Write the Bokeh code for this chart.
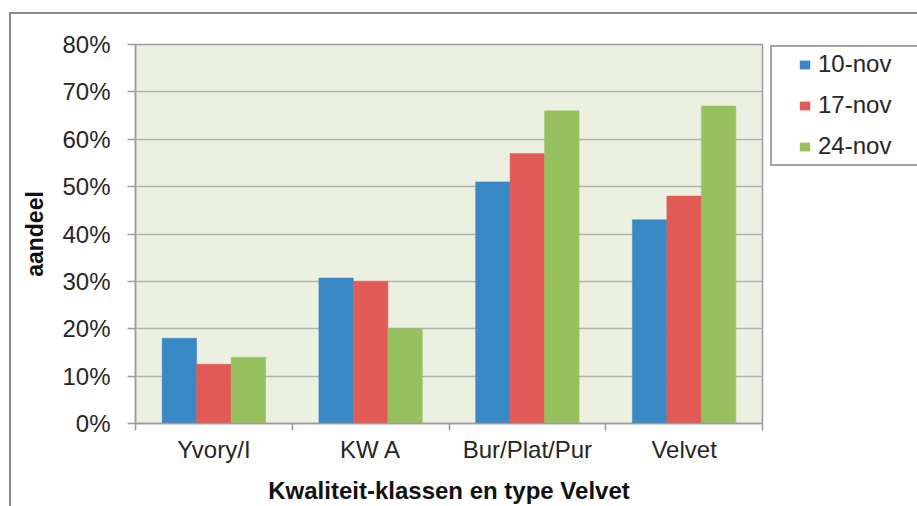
from bokeh.plotting import figure
from bokeh.layouts import row
from bokeh.models import (Range1d, FixedTicker, NumeralTickFormatter, Legend, LegendItem,
                          ColumnDataSource)
from bokeh.embed import file_html
from bokeh.resources import INLINE
import numpy as np

# ---- data ----
categories = ["Yvory/I", "KW A", "Bur/Plat/Pur", "Velvet"]
series_names = ["10-nov", "17-nov", "24-nov"]
share_10nov = [0.18, 0.307, 0.51, 0.43]
share_17nov = [0.125, 0.30, 0.57, 0.48]
share_24nov = [0.14, 0.20, 0.66, 0.67]
y_ticks = [0.0, 0.1, 0.2, 0.3, 0.4, 0.5, 0.6, 0.7, 0.8]
x_title = "Kwaliteit-klassen en type Velvet"
y_title = "aandeel"

colors = ["#3a89c6", "#e15a55", "#97c15e"]
FONT = "Liberation Sans"
TXT = "#262626"
GRAY = "#9c9c9c"

p = figure(width=770, height=506, output_backend="svg", toolbar_location=None,
           x_range=Range1d(0, len(categories)), y_range=Range1d(0, 0.8),
           min_border_left=135, min_border_right=8, min_border_top=44,
           min_border_bottom=83)
p.background_fill_color = "#ebf0e1"
p.border_fill_alpha = 0
p.outline_line_color = GRAY
p.outline_line_width = 1.5

centers = np.arange(len(categories)) + 0.5
bar_w = 0.22
offsets = [-bar_w, 0.0, bar_w]
sources = []
for name, vals, off, col in zip(series_names, [share_10nov, share_17nov, share_24nov], offsets, colors):
    src = ColumnDataSource(dict(x=centers + off, top=vals))
    sources.append(src)
    p.vbar(x="x", top="top", width=bar_w, bottom=0, source=src,
           fill_color=col, line_color=col, line_width=0.5)

# y axis
yax = p.yaxis[0]
yax.ticker = FixedTicker(ticks=y_ticks)
yax.formatter = NumeralTickFormatter(format="0%")
yax.major_label_text_font = FONT
yax.major_label_text_font_size = "24px"
yax.major_label_text_color = TXT
yax.major_label_standoff = 17
yax.major_tick_in = 0
yax.major_tick_out = 8
yax.major_tick_line_color = GRAY
yax.major_tick_line_width = 1.5
yax.minor_tick_line_color = None
yax.axis_line_color = GRAY
yax.axis_line_width = 1.5
yax.axis_label = y_title
yax.axis_label_text_font = FONT
yax.axis_label_text_font_style = "bold"
yax.axis_label_text_font_size = "23px"
yax.axis_label_text_color = "#111111"
yax.axis_label_standoff = 11

# x axis: labels at category centres, tick marks between categories
xax = p.xaxis[0]
xax.ticker = FixedTicker(ticks=list(centers), minor_ticks=list(np.arange(len(categories) + 1)))
xax.major_label_overrides = {float(c): lab for c, lab in zip(centers, categories)}
xax.major_tick_line_color = None
xax.major_tick_in = 0
xax.major_tick_out = 0
xax.minor_tick_in = 0
xax.minor_tick_out = 7
xax.minor_tick_line_color = GRAY
xax.minor_tick_line_width = 1.5
xax.axis_line_color = GRAY
xax.axis_line_width = 1.5
xax.major_label_text_font = FONT
xax.major_label_text_font_size = "24px"
xax.major_label_text_color = TXT
xax.major_label_standoff = 5
xax.axis_label = x_title
xax.axis_label_text_font = FONT
xax.axis_label_text_font_style = "bold"
xax.axis_label_text_font_size = "24px"
xax.axis_label_text_color = "#111111"
xax.axis_label_standoff = 11

p.xgrid.grid_line_color = None
p.ygrid.grid_line_color = "#b2b2b2"
p.ygrid.grid_line_width = 1.5

# ---- legend panel (same frame height as the chart; the bars lie far outside its view) ----
lp = figure(width=147, height=506, output_backend="svg", toolbar_location=None,
            x_range=Range1d(-101, -100), y_range=Range1d(-2.0, -1.2),
            x_axis_type=None, y_axis_type=None,
            min_border_left=0, min_border_right=0, min_border_top=44, min_border_bottom=83)
lp.grid.visible = False
lp.background_fill_alpha = 0
lp.border_fill_alpha = 0
lp.outline_line_color = None
legend_renderers = [lp.vbar(x="x", top="top", width=bar_w, source=s,
                            fill_color=c, line_color=None)
                    for s, c in zip(sources, colors)]
legend = Legend(items=[LegendItem(label=n, renderers=[r]) for n, r in zip(series_names, legend_renderers)],
                location=(28, 263), padding=0, spacing=13, glyph_width=13, glyph_height=11,
                label_standoff=7, label_height=27, label_text_font=FONT,
                label_text_font_size="24px", label_text_color=TXT,
                border_line_alpha=0, background_fill_alpha=0, margin=0)
lp.add_layout(legend, "center")

layout = row(p, lp, spacing=0)
# outer chart frame (left/top edges) and legend box, drawn as CSS lines behind the canvases
layout.styles = {
    "background-color": "white",
    "background-image": ", ".join(["linear-gradient(#8a8a8a, #8a8a8a)"] * 2 +
                                  ["linear-gradient(#a4a4a4, #a4a4a4)"] * 3),
    "background-size": "2px 100%, 100% 2px, 2px 120px, 160px 2px, 160px 2px",
    "background-position": "9px 12px, 9px 12px, 770px 45px, 770px 45px, 770px 164px",
    "background-repeat": "no-repeat",
}

open("out.html", "w").write(file_html(layout, INLINE))
